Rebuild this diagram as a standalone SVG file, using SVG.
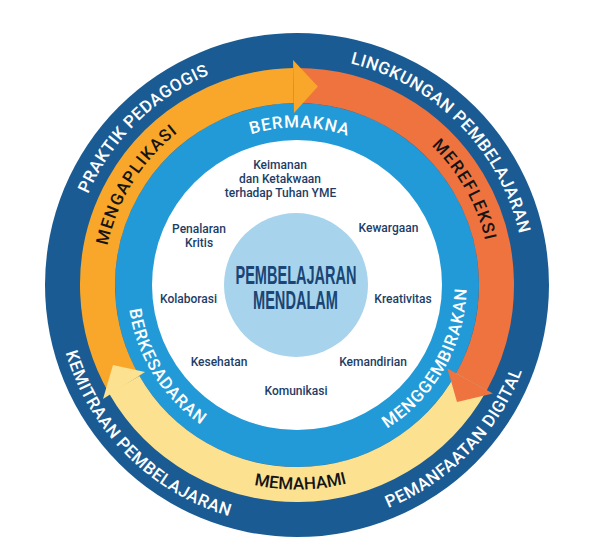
<svg xmlns="http://www.w3.org/2000/svg" width="598" height="557" viewBox="0 0 598 557">
<style>
.ring{font-family:Roboto,"Liberation Sans",sans-serif;font-weight:500;font-size:17px;fill:#ffffff;letter-spacing:0.5px}
.band{font-family:Roboto,"Liberation Sans",sans-serif;font-weight:500;font-size:17px;fill:#141414;letter-spacing:1.3px}
.inner{font-family:Roboto,"Liberation Sans",sans-serif;font-weight:500;font-size:17px;fill:#ffffff;letter-spacing:0.9px}
.lbl{font-family:Roboto,"Liberation Sans",sans-serif;font-weight:500;font-size:12px;fill:#1D3D66;text-anchor:middle}
.core{font-family:"Liberation Sans",sans-serif;font-weight:bold;font-size:25px;fill:#1A4574;text-anchor:middle}
</style>
<defs>
<path id="pPraktik" d="M-187.90,129.14 A228,228 0 0 1 132.40,-185.62"/>
<path id="pLingkungan" d="M-129.80,-187.45 A228,228 0 0 1 186.08,131.75"/>
<path id="pDigital" d="M-135.81,199.09 A241,241 0 0 0 195.71,-140.63"/>
<path id="pKemitraan" d="M-197.42,-138.23 A241,241 0 0 0 138.23,197.42"/>
<path id="pMengaplikasi" d="M-129.48,143.80 A193.5,193.5 0 0 1 72.49,-179.41"/>
<path id="pMerefleksi" d="M-64.59,-182.40 A193.5,193.5 0 0 1 123.08,149.31"/>
<path id="pMemahami" d="M-200.75,39.02 A204.5,204.5 0 0 0 201.98,31.99"/>
<path id="pBermakna" d="M-154.61,-30.05 A157.5,157.5 0 0 1 155.56,-24.64"/>
<path id="pBerkesadaran" d="M-113.42,-125.96 A169.5,169.5 0 0 0 63.50,157.16"/>
<path id="pMenggembirakan" d="M-56.58,159.78 A169.5,169.5 0 0 0 107.82,-130.79"/>
</defs>
<rect width="598" height="557" fill="#ffffff"/>
<g transform="translate(297,285)">
<g id="rings">
<circle r="252" fill="#1A5B93"/>
<circle r="182" fill="#229AD7"/>
<circle r="145" fill="#ffffff"/>
</g>
<g id="core-node">
<circle cx="-1" cy="0" r="72" fill="#A7D4EC"/>
</g>
<g id="connectors">
<path d="M-172.77,99.75 A199.5,199.5 0 0 1 -3.48,-199.47" fill="none" stroke="#F8A72B" stroke-width="35"/>
<path d="M-3.48,-199.47 A199.5,199.5 0 0 1 174.49,96.72" fill="none" stroke="#EF733F" stroke-width="35"/>
<path d="M174.49,96.72 A199.5,199.5 0 0 1 -172.77,99.75" fill="none" stroke="#FCE190" stroke-width="35"/>
<polygon points="-3.00,-171.97 -3.93,-224.97 20.85,-198.41" fill="#F8A72B"/>
<polygon points="150.43,83.39 195.91,108.60 160,117" fill="#EF733F"/>
<polygon points="-152,87 -194,114 -184,80" fill="#FCE190"/>
</g>
<g id="node-praktik"><text class="ring"><textPath href="#pPraktik" startOffset="50%" text-anchor="middle">PRAKTIK PEDAGOGIS</textPath></text></g>
<g id="node-lingkungan"><text class="ring"><textPath href="#pLingkungan" startOffset="50%" text-anchor="middle">LINGKUNGAN PEMBELAJARAN</textPath></text></g>
<g id="node-digital"><text class="ring"><textPath href="#pDigital" startOffset="50%" text-anchor="middle">PEMANFAATAN DIGITAL</textPath></text></g>
<g id="node-kemitraan"><text class="ring"><textPath href="#pKemitraan" startOffset="50%" text-anchor="middle">KEMITRAAN PEMBELAJARAN</textPath></text></g>
<g id="node-mengaplikasi"><text class="band"><textPath href="#pMengaplikasi" startOffset="50%" text-anchor="middle">MENGAPLIKASI</textPath></text></g>
<g id="node-merefleksi"><text class="band"><textPath href="#pMerefleksi" startOffset="50%" text-anchor="middle">MEREFLEKSI</textPath></text></g>
<g id="node-memahami"><text class="band" style="letter-spacing:0px"><textPath href="#pMemahami" startOffset="50%" text-anchor="middle">MEMAHAMI</textPath></text></g>
<g id="node-bermakna"><text class="inner"><textPath href="#pBermakna" startOffset="50%" text-anchor="middle">BERMAKNA</textPath></text></g>
<g id="node-berkesadaran"><text class="inner"><textPath href="#pBerkesadaran" startOffset="50%" text-anchor="middle">BERKESADARAN</textPath></text></g>
<g id="node-menggembirakan"><text class="inner"><textPath href="#pMenggembirakan" startOffset="50%" text-anchor="middle">MENGGEMBIRAKAN</textPath></text></g>
</g>
<g id="node-core-text">
<text class="core" x="296" y="283.5" textLength="121" lengthAdjust="spacingAndGlyphs">PEMBELAJARAN</text>
<text class="core" x="295.5" y="308.5" textLength="85" lengthAdjust="spacingAndGlyphs">MENDALAM</text>
</g>
<g id="node-keimanan"><text class="lbl" x="280" y="169">Keimanan</text><text class="lbl" x="280" y="183">dan Ketakwaan</text><text class="lbl" x="280.5" y="197">terhadap Tuhan YME</text></g>
<g id="node-penalaran"><text class="lbl" x="199" y="233">Penalaran</text><text class="lbl" x="199" y="247">Kritis</text></g>
<g id="node-kewargaan"><text class="lbl" x="388.5" y="232">Kewargaan</text></g>
<g id="node-kolaborasi"><text class="lbl" x="188.5" y="303">Kolaborasi</text></g>
<g id="node-kreativitas"><text class="lbl" x="403" y="303">Kreativitas</text></g>
<g id="node-kesehatan"><text class="lbl" x="219" y="366">Kesehatan</text></g>
<g id="node-kemandirian"><text class="lbl" x="373" y="366">Kemandirian</text></g>
<g id="node-komunikasi"><text class="lbl" x="296" y="395">Komunikasi</text></g>
</svg>
